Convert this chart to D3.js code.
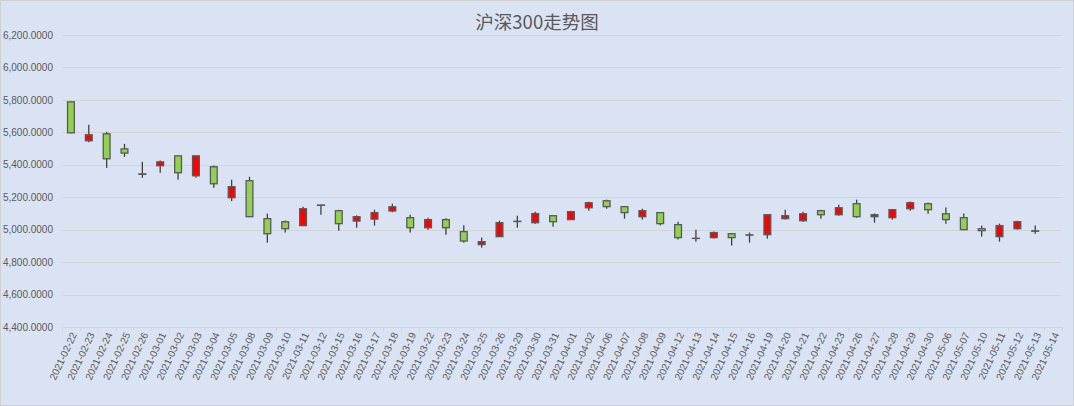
<!DOCTYPE html>
<html>
<head>
<meta charset="utf-8">
<script src="https://cdn.jsdelivr.net/npm/d3@7"></script>
<style>
  body { margin: 0; background: #fff; }
  .canvas svg { display: block; }
  .axis path { display: none; }
  .axis text { fill: #595959; font-family: "Liberation Sans", Arial, sans-serif; font-size: 10px; }
</style>
</head>
<body>
<div class="canvas"></div>
<script>
// trading days, 2021-02-22 .. 2021-05-14
const dates = ['2021-02-22','2021-02-23','2021-02-24','2021-02-25','2021-02-26',
  '2021-03-01','2021-03-02','2021-03-03','2021-03-04','2021-03-05','2021-03-08','2021-03-09',
  '2021-03-10','2021-03-11','2021-03-12','2021-03-15','2021-03-16','2021-03-17','2021-03-18',
  '2021-03-19','2021-03-22','2021-03-23','2021-03-24','2021-03-25','2021-03-26','2021-03-29',
  '2021-03-30','2021-03-31','2021-04-01','2021-04-02','2021-04-06','2021-04-07','2021-04-08',
  '2021-04-09','2021-04-12','2021-04-13','2021-04-14','2021-04-15','2021-04-16','2021-04-19',
  '2021-04-20','2021-04-21','2021-04-22','2021-04-23','2021-04-26','2021-04-27','2021-04-28',
  '2021-04-29','2021-04-30','2021-05-06','2021-05-07','2021-05-10','2021-05-11','2021-05-12',
  '2021-05-13','2021-05-14'];

const openP = [5788,5548,5591,5498,5344, 5394,5455,5332,5388,5197,5302,5068,
  5049,5025,5152,5117,5053,5065,5115, 5074,5012,5062,4988,4908,4957,5050,
  5043,5086,5062,5135,5178,5142,5080, 5105,5031,4947,4951,4975,4968,4969,
  5068,5055,5117,5092,5160,5080,5074, 5129,5160,5098,5074,5006,4957,5006,
  4993,null];
const highP = [5790,5646,5603,5529,5418, 5426,5456,5456,5395,5308,5326,5099,
  5057,5141,5153,5123,5088,5123,5160, 5092,5074,5070,5027,4951,5055,5086,
  5111,5087,5117,5172,5185,5143,5129, 5106,5049,5000,4988,4976,4982,5093,
  5123,5111,5123,5154,5185,5100,5125, 5174,5168,5137,5100,5025,5037,5055,
  5025,null];
const lowP = [5595,5539,5381,5449,5320, 5351,5308,5320,5259,5176,5079,4920,
  4982,5024,5092,4994,5012,5025,5107, 4982,5000,4969,4920,4889,4956,5012,
  5037,5018,5061,5117,5129,5068,5062, 5025,4939,4926,4945,4902,4920,4945,
  5062,5049,5068,5086,5074,5043,5062, 5117,5098,5037,4999,4957,4926,5000,
  4975,null];
const closeP = [5597,5585,5437,5472,5341, 5418,5351,5455,5283,5265,5080,4975,
  5006,5129,5150,5037,5080,5105,5141, 5012,5062,5012,4930,4926,5043,5052,
  5099,5049,5111,5166,5142,5105,5117, 5037,4951,4946,4982,4951,4966,5092,
  5086,5098,5092,5135,5080,5092,5123, 5166,5123,5062,5000,4994,5025,5049,
  4990,null];

const yTicks = [4400,4600,4800,5000,5200,5400,5600,5800,6000,6200];

const width = 1074;
const height = 406;
const margin = {top: 35, right: 12, bottom: 79, left: 62};
const graphWidth = width - margin.left - margin.right;
const graphHeight = height - margin.top - margin.bottom;

const data = dates.map((d, i) => ({
  date: d, open: openP[i], high: highP[i], low: lowP[i], close: closeP[i]
})).filter(d => d.open != null);

const svg = d3.select('.canvas')
  .append('svg')
  .attr('width', width)
  .attr('height', height);

svg.append('rect')
  .attr('x', 0.5).attr('y', 0.5)
  .attr('width', width - 1).attr('height', height - 1)
  .attr('fill', '#dae3f3')
  .attr('stroke', '#d0d0d0');

svg.append('text')
  .attr('x', width / 2)
  .attr('y', 29)
  .attr('text-anchor', 'middle')
  .attr('fill', '#595959')
  .style('font-family', '"Noto Sans CJK SC", sans-serif')
  .style('font-size', '18.5px')
  .text('沪深300走势图');

const graph = svg.append('g')
  .attr('transform', `translate(${margin.left}, ${margin.top})`);

const x = d3.scaleBand()
  .domain(dates)
  .range([0, graphWidth])
  .padding(0);

const y = d3.scaleLinear()
  .domain([4400, 6200])
  .range([graphHeight, 0]);

// gridlines
graph.append('g')
  .selectAll('line')
  .data(yTicks)
  .enter()
  .append('line')
  .attr('x1', 0)
  .attr('x2', graphWidth)
  .attr('y1', d => Math.round(y(d)) + 0.5)
  .attr('y2', d => Math.round(y(d)) + 0.5)
  .attr('stroke', '#d4d4d4')
  .attr('stroke-width', 1);

// y axis labels
const gYAxis = graph.append('g').attr('class', 'axis');
gYAxis.call(d3.axisLeft(y).tickValues(yTicks).tickSize(0).tickPadding(9)
  .tickFormat(d3.format(',.4f')));

// x axis ticks between categories
graph.append('g')
  .selectAll('line')
  .data(dates.concat(['end']))
  .enter()
  .append('line')
  .attr('x1', d => Math.round(d === 'end' ? graphWidth : x(d)) + 0.5)
  .attr('x2', d => Math.round(d === 'end' ? graphWidth : x(d)) + 0.5)
  .attr('y1', graphHeight)
  .attr('y2', graphHeight + 4)
  .attr('stroke', '#d4d4d4');

const gXAxis = graph.append('g')
  .attr('class', 'axis')
  .attr('transform', `translate(0, ${graphHeight})`);
gXAxis.call(d3.axisBottom(x).tickSize(0));
gXAxis.selectAll('text')
  .attr('text-anchor', 'end')
  .attr('transform', 'translate(3, 6) rotate(-65)')
  .attr('dx', 0)
  .attr('dy', '0.35em')
  .attr('y', 0)
  .attr('x', 0);

// candles
const bodyW = x.bandwidth() * 0.38;
const cx = d => x(d.date) + x.bandwidth() / 2;

const candles = graph.append('g')
  .selectAll('g')
  .data(data)
  .enter()
  .append('g');

candles.append('line')
  .attr('x1', cx)
  .attr('x2', cx)
  .attr('y1', d => y(d.high))
  .attr('y2', d => y(d.low))
  .attr('stroke', '#404040')
  .attr('stroke-width', 1.3);

candles.append('rect')
  .attr('x', d => cx(d) - bodyW / 2)
  .attr('y', d => y(Math.max(d.open, d.close)))
  .attr('width', bodyW)
  .attr('height', d => Math.abs(y(d.open) - y(d.close)))
  .attr('fill', d => d.close > d.open ? '#ff0000' : '#92d050')
  .attr('stroke', '#595959')
  .attr('stroke-width', 1.3);
</script>
</body>
</html>
